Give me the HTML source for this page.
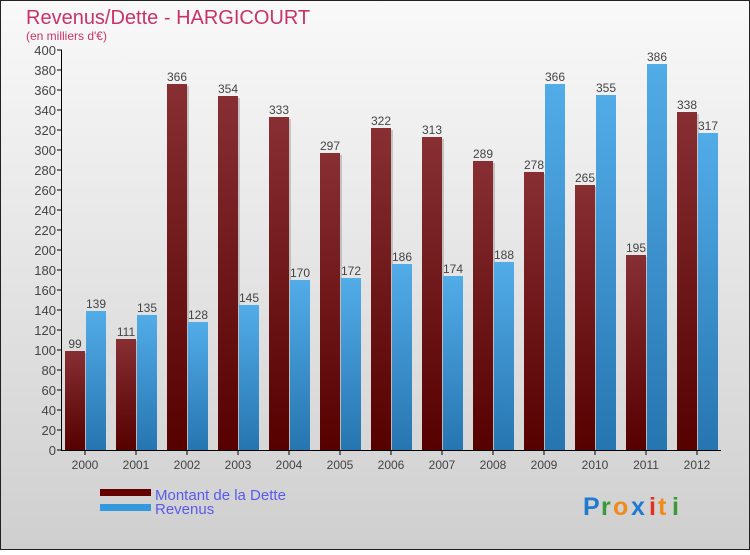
<!DOCTYPE html>
<html><head><meta charset="utf-8"><style>
body{margin:0;width:750px;height:550px;overflow:hidden;font-family:"Liberation Sans",sans-serif}
</style></head><body>
<svg width="750" height="550" viewBox="0 0 750 550" xmlns="http://www.w3.org/2000/svg">
<defs>
<linearGradient id="bg" x1="0" y1="0" x2="0" y2="1"><stop offset="0" stop-color="#f9f9f9"/><stop offset="1" stop-color="#cfcfcf"/></linearGradient>
<linearGradient id="gd" x1="0" y1="0" x2="0" y2="1"><stop offset="0" stop-color="#872f33"/><stop offset="1" stop-color="#560000"/></linearGradient>
<linearGradient id="gr" x1="0" y1="0" x2="0" y2="1"><stop offset="0" stop-color="#52ace8"/><stop offset="1" stop-color="#2675b0"/></linearGradient>
</defs>
<rect x="0.5" y="0.5" width="749" height="549" fill="url(#bg)" stroke="#222"/>
<text x="26" y="24" font-size="20" fill="#c8336a">Revenus/Dette - HARGICOURT</text>
<text x="26" y="40" font-size="12" fill="#c8336a">(en milliers d'€)</text>
<g id="plot"></g>
<rect x="100" y="489" width="51" height="7" fill="#640000"/>
<rect x="100" y="504" width="51" height="7" fill="#3398dd"/>
<text x="155" y="500" font-size="15" fill="#5a5aee">Montant de la Dette</text>
<text x="155" y="514" font-size="15" fill="#5a5aee">Revenus</text>
<g font-size="25" font-weight="bold">
<text x="583" y="515" fill="#1f7ad0">P</text><text x="601" y="515" fill="#3a9a3a">r</text><text x="613" y="515" fill="#f08a1a">o</text><text x="631" y="515" fill="#1f7ad0">x</text><text x="649" y="515" fill="#e03020">i</text><text x="658" y="515" fill="#f08a1a">t</text><text x="672" y="515" fill="#3a9a3a">i</text>
</g>
</svg>
<script>
const years=["2000","2001","2002","2003","2004","2005","2006","2007","2008","2009","2010","2011","2012"];
const dette=[99,111,366,354,333,297,322,313,289,278,265,195,338];
const revenus=[139,135,128,145,170,172,186,174,188,366,355,386,317];
const yTicks=[0,20,40,60,80,100,120,140,160,180,200,220,240,260,280,300,320,340,360,380,400];
const NS="http://www.w3.org/2000/svg";
const g=document.getElementById('plot');
const y=v=>450-v*400/400;
const cx=i=>85+i*51;
function mk(t,a,txt){const e=document.createElementNS(NS,t);for(const k in a)e.setAttribute(k,a[k]);if(txt!==undefined)e.textContent=txt;g.appendChild(e);return e;}
yTicks.forEach(v=>{
 const l=mk('line',{x1:57,x2:62,y1:y(v),y2:y(v),stroke:'#000'});
 
 
 const t=mk('text',{x:56,y:y(v)+5,'font-size':13,fill:'#444','text-anchor':'end'},v);
 
 
});
years.forEach((yr,i)=>{
 const c=cx(i);
 const s1=mk('rect',{x:c-20+2,y:y(dette[i])+2,width:20,height:450-y(dette[i])-2,fill:'#999',opacity:0.5});
 
 
 const b1=mk('rect',{x:c-20,y:y(dette[i]),width:20,height:450-y(dette[i]),fill:'url(#gd)'});
 
 
 const b2=mk('rect',{x:c+1,y:y(revenus[i]),width:20,height:450-y(revenus[i]),fill:'url(#gr)'});
 
 
 const t1=mk('text',{x:c-10,y:y(dette[i])-3,'font-size':12,fill:'#444','text-anchor':'middle'},dette[i]);
 
 
 const t2=mk('text',{x:c+11,y:y(revenus[i])-3,'font-size':12,fill:'#444','text-anchor':'middle'},revenus[i]);
 
 
 const tk=mk('line',{x1:c,x2:c,y1:450,y2:455,stroke:'#000'});
 
 
 const xl=mk('text',{x:c,y:469,'font-size':12,fill:'#444','text-anchor':'middle'},yr);
 
 
});
const ya=mk('line',{x1:61.5,x2:61.5,y1:50,y2:450,stroke:'#000'});


const xa=mk('line',{x1:61,x2:721,y1:450.5,y2:450.5,stroke:'#000'});


</script>
</body></html>
